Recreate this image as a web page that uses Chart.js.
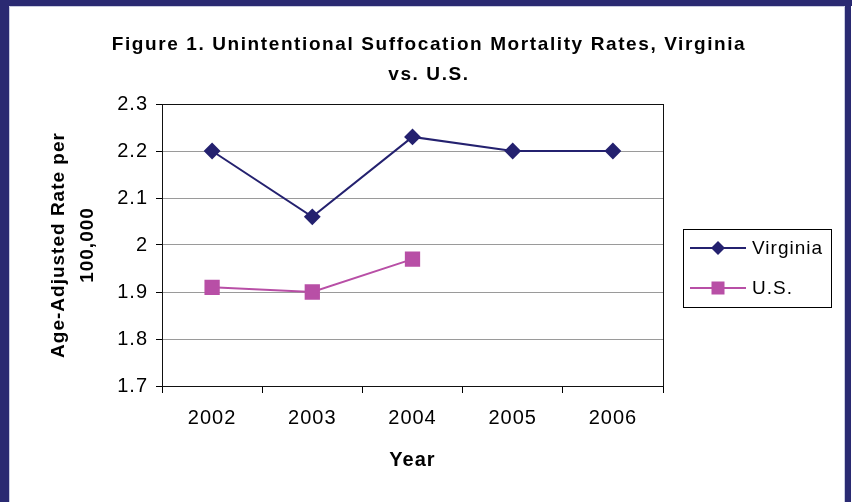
<!DOCTYPE html>
<html>
<head>
<meta charset="utf-8">
<script src="https://cdn.jsdelivr.net/npm/chart.js@4"></script>
<style>
  html, body { margin: 0; padding: 0; background: #fff; }
  #wrap { width: 852px; height: 502px; }
</style>
</head>
<body>
<div id="wrap"><canvas id="rateChart" width="852" height="502"></canvas></div>
<script>
// Dữ liệu biểu đồ
const years = ['2002', '2003', '2004', '2005', '2006'];
const virginiaRates = [2.2, 2.06, 2.23, 2.2, 2.2];
const usRates = [1.91, 1.90, 1.97, null, null];
const seriesNames = ['Virginia', 'U.S.'];
const titleLines = ['Figure 1. Unintentional Suffocation Mortality Rates, Virginia', 'vs. U.S.'];

const navy = '#24216f';
const pink = '#b84fa6';
const fontFamily = '"Liberation Sans", Arial, sans-serif';

// Khung ngoài, tiêu đề, viền vùng vẽ và chú thích
const framePlugin = {
    id: 'frame',
    beforeDraw(chart) {
        const c = chart.ctx;
        c.save();
        c.fillStyle = '#fff';
        c.fillRect(0, 0, chart.width, chart.height);
        c.fillStyle = '#2a2a72';
        c.fillRect(0, 0, chart.width, 6);
        c.fillRect(0, 0, 9, chart.height);
        c.fillRect(845, 0, 6, chart.height);
        c.strokeStyle = '#c8cce0';
        c.lineWidth = 1;
        c.beginPath();
        c.moveTo(9.5, chart.height);
        c.lineTo(9.5, 6.5);
        c.lineTo(844.5, 6.5);
        c.lineTo(844.5, chart.height);
        c.stroke();

        // tiêu đề, căn giữa theo cả khung
        c.fillStyle = '#000';
        c.font = 'bold 19px ' + fontFamily;
        c.letterSpacing = '1.6px';
        c.textAlign = 'center';
        c.textBaseline = 'middle';
        titleLines.forEach((t, i) => c.fillText(t, 429, 45 + i * 30));
        c.restore();
        // chữ trục hơi giãn như bản gốc
        c.letterSpacing = '1px';
    },
    afterDraw(chart) {
        const c = chart.ctx;
        const a = chart.chartArea;
        c.save();
        c.strokeStyle = '#111';
        c.lineWidth = 1;
        c.strokeRect(Math.round(a.left) + 0.5, Math.round(a.top) + 0.5,
            Math.round(a.right - a.left), Math.round(a.bottom - a.top));

        // chú thích tự vẽ
        const box = { x: 683, y: 229, w: 148, h: 78 };
        c.strokeStyle = '#000';
        c.strokeRect(box.x + 0.5, box.y + 0.5, box.w, box.h);
        chart.data.datasets.forEach((ds, i) => {
            const y = box.y + 19 + i * 40;
            c.strokeStyle = ds.borderColor;
            c.lineWidth = 2;
            c.beginPath();
            c.moveTo(box.x + 7, y);
            c.lineTo(box.x + 63, y);
            c.stroke();
            c.fillStyle = ds.backgroundColor;
            const cx = box.x + 35;
            if (ds.pointStyle === 'rectRot') {
                const r = 7;
                c.beginPath();
                c.moveTo(cx - r, y); c.lineTo(cx, y - r); c.lineTo(cx + r, y); c.lineTo(cx, y + r);
                c.closePath();
                c.fill();
            } else {
                c.fillRect(cx - 6.5, y - 6.5, 13, 13);
            }
            c.fillStyle = '#000';
            c.font = '19px ' + fontFamily;
            c.letterSpacing = '1px';
            c.textBaseline = 'middle';
            c.textAlign = 'left';
            c.fillText(ds.label, box.x + 69, y + 1);
        });
        c.restore();
        c.letterSpacing = '0px';
    }
};

const ctx = document.getElementById('rateChart').getContext('2d');

new Chart(ctx, {
    type: 'line',
    data: {
        labels: years,
        datasets: [
            {
                label: seriesNames[0],
                data: virginiaRates,
                borderColor: navy,
                backgroundColor: navy,
                borderWidth: 2,
                pointStyle: 'rectRot',
                pointRadius: 7,
                pointHoverRadius: 7,
                tension: 0
            },
            {
                label: seriesNames[1],
                data: usRates,
                borderColor: pink,
                backgroundColor: pink,
                borderWidth: 2,
                pointStyle: 'rect',
                pointRadius: 9.4,
                pointHoverRadius: 9.4,
                tension: 0
            }
        ]
    },
    options: {
        responsive: false,
        animation: false,
        layout: { padding: { left: 10, right: 189, top: 104, bottom: 0 } },
        plugins: {
            legend: { display: false },
            tooltip: { enabled: false },
            title: { display: false }
        },
        scales: {
            x: {
                offset: true,
                grid: {
                    offset: true,
                    drawOnChartArea: false,
                    tickLength: 7,
                    tickColor: '#000'
                },
                border: { color: '#000' },
                ticks: {
                    color: '#000',
                    padding: 13,
                    font: { family: fontFamily, size: 20 }
                },
                title: {
                    display: true,
                    text: 'Year',
                    color: '#000',
                    font: { family: fontFamily, size: 20, weight: 'bold', lineHeight: 1.2 },
                    padding: { bottom: 30 }
                },
                afterFit(scale) { scale.height = 116; }
            },
            y: {
                min: 1.7,
                max: 2.3,
                ticks: {
                    stepSize: 0.1,
                    color: '#000',
                    padding: 8,
                    font: { family: fontFamily, size: 20 },
                    callback: v => Math.round(v * 10) / 10
                },
                grid: {
                    color: '#9a9a9a',
                    tickLength: 6,
                    tickColor: '#000'
                },
                border: { color: '#000' },
                title: {
                    display: true,
                    text: ['Age-Adjusted Rate per', '100,000'],
                    color: '#000',
                    font: { family: fontFamily, size: 19, weight: 'bold', lineHeight: 1.5 },
                    padding: { top: 35 }
                },
                afterFit(scale) { scale.width = 152; }
            }
        }
    },
    plugins: [framePlugin]
});
</script>
</body>
</html>
